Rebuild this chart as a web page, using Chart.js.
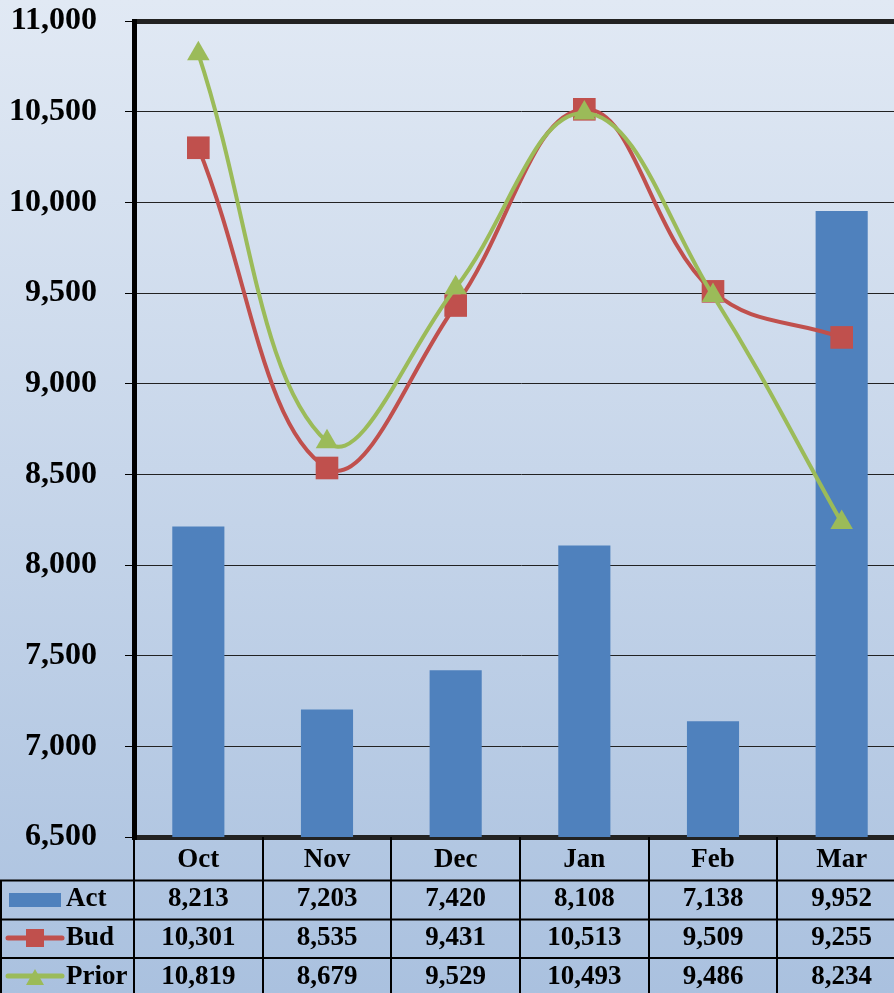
<!DOCTYPE html>
<html>
<head>
<meta charset="utf-8">
<script src="https://cdn.jsdelivr.net/npm/chart.js@4.4.0/dist/chart.umd.min.js"></script>
<style>
  html, body { margin: 0; padding: 0; width: 894px; height: 993px; overflow: hidden; }
  #wrap { width: 922px; height: 993px; }
</style>
</head>
<body>
<div id="wrap"><canvas id="chart" width="922" height="993"></canvas></div>
<script>
const months = ["Oct", "Nov", "Dec", "Jan", "Feb", "Mar"];
const act = [8213, 7203, 7420, 8108, 7138, 9952];
const bud = [10301, 8535, 9431, 10513, 9509, 9255];
const prior = [10819, 8679, 9529, 10493, 9486, 8234];
const seriesNames = ["Act", "Bud", "Prior"];

const BLUE = "#4F81BD", RED = "#C0504D", GREEN = "#9BBB59";
const FONT = "'Liberation Serif', 'Times New Roman', serif";
const fmt = (v) => v.toLocaleString("en-US");

// gradient behind everything
const bgPlugin = {
    id: "bg",
    beforeDraw(chart) {
        const c = chart.ctx;
        const g = c.createLinearGradient(0, 0, 0, chart.height);
        g.addColorStop(0, "#E1E9F4");
        g.addColorStop(1, "#AAC1DF");
        c.save();
        c.fillStyle = g;
        c.fillRect(0, 0, chart.width, chart.height);
        c.restore();
    }
};

// data table under the plot
const tablePlugin = {
    id: "dataTable",
    afterDraw(chart) {
        const c = chart.ctx;
        const x = chart.scales.x;
        const area = chart.chartArea;
        const rows = [act, bud, prior];
        const rowLines = [880.5, 919.5, 958];
        const textY = [860, 899, 938, 977];
        const step = (area.right - area.left) / months.length;

        c.save();
        c.strokeStyle = "#000";
        c.lineWidth = 2;
        // vertical lines
        for (let i = 0; i <= months.length; i++) {
            const px = Math.round(area.left + step * i);
            c.beginPath();
            c.moveTo(px, area.bottom);
            c.lineTo(px, chart.height);
            c.stroke();
        }
        c.beginPath();
        c.moveTo(1, rowLines[0]);
        c.lineTo(1, chart.height);
        c.stroke();
        rowLines.forEach((y) => {
            c.beginPath();
            c.moveTo(0, y);
            c.lineTo(chart.width, y);
            c.stroke();
        });

        c.fillStyle = "#000";
        c.font = "bold 27px " + FONT;
        c.textAlign = "center";
        c.textBaseline = "middle";
        months.forEach((m, i) => {
            const cx = x.getPixelForValue(i);
            c.fillText(m, cx, textY[0]);
            rows.forEach((r, k) => c.fillText(fmt(r[i]), cx, textY[k + 1]));
        });

        // legend keys
        c.textAlign = "left";
        seriesNames.forEach((n, k) => c.fillText(n, 66, textY[k + 1]));

        c.fillStyle = BLUE;
        c.fillRect(9, 893, 52, 14);

        c.lineCap = "round";
        c.lineWidth = 5;
        c.strokeStyle = RED;
        c.beginPath(); c.moveTo(8, 938); c.lineTo(62, 938); c.stroke();
        c.fillStyle = RED;
        c.fillRect(26, 929, 18, 18);

        c.strokeStyle = GREEN;
        c.beginPath(); c.moveTo(8, 976); c.lineTo(62, 976); c.stroke();
        c.fillStyle = GREEN;
        c.beginPath();
        c.moveTo(35, 969); c.lineTo(44, 985); c.lineTo(26, 985); c.closePath();
        c.fill();
        c.restore();
    }
};

new Chart(document.getElementById("chart"), {
    type: "bar",
    data: {
        labels: months,
        datasets: [
            {
                type: "line", label: "Prior", data: prior, order: 0,
                borderColor: GREEN, backgroundColor: GREEN, borderWidth: 4,
                tension: 0.4, pointStyle: "triangle", pointRadius: 13,
                pointBorderWidth: 0, pointBackgroundColor: GREEN
            },
            {
                type: "line", label: "Bud", data: bud, order: 1,
                borderColor: RED, backgroundColor: RED, borderWidth: 4,
                tension: 0.4, pointStyle: "rect", pointRadius: 16,
                pointBorderWidth: 0, pointBackgroundColor: RED
            },
            {
                label: "Act", data: act, order: 2,
                backgroundColor: BLUE, barPercentage: 0.405, categoryPercentage: 1
            }
        ]
    },
    options: {
        responsive: false,
        animation: false,
        devicePixelRatio: 1,
        layout: { padding: { top: 21, bottom: 156, left: 0, right: 0 } },
        plugins: { legend: { display: false }, tooltip: { enabled: false } },
        scales: {
            x: { display: false },
            y: {
                min: 6500, max: 11000,
                afterFit(scale) {
                    scale.width = 134;
                    scale.paddingTop = 0;
                    scale.paddingBottom = 0;
                },
                border: { display: true, color: "#000", width: 5 },
                grid: {
                    color: "#222",
                    lineWidth: (ctx) => (ctx.tick && (ctx.tick.value === 11000 || ctx.tick.value === 6500)) ? 5 : 1,
                    tickLength: 9,
                    tickWidth: 1,
                    tickColor: "#000"
                },
                ticks: {
                    stepSize: 500,
                    padding: 28,
                    color: "#000",
                    font: { family: FONT, size: 32, weight: "bold" },
                    callback: (v) => fmt(v)
                }
            }
        }
    },
    plugins: [bgPlugin, tablePlugin]
});
</script>
</body>
</html>
